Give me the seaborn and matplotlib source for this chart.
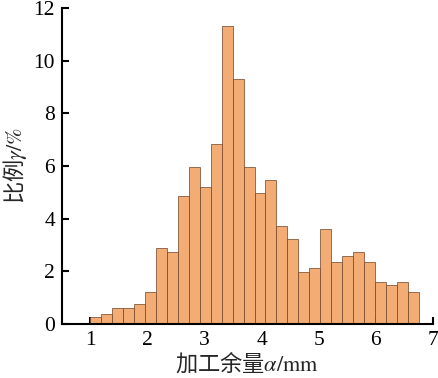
import numpy as np
import pandas as pd
import matplotlib
matplotlib.use('Agg')
import matplotlib.pyplot as plt
import seaborn as sns

# Dados (30 bins entre 1.0 e 6.75 mm)
inicio, fim, n_bins = 1.0, 6.75, 30
proporcao = [0.25, 0.38, 0.61, 0.62, 0.75, 1.22, 2.87, 2.73, 4.84, 5.96,
             5.20, 6.84, 11.33, 9.30, 5.96, 4.97, 5.47, 3.72, 3.23, 1.99,
             2.11, 3.59, 2.34, 2.59, 2.73, 2.34, 1.61, 1.49, 1.61, 1.22]
xticks = [1, 2, 3, 4, 5, 6, 7]
yticks = [0, 2, 4, 6, 8, 10, 12]

bordas = np.linspace(inicio, fim, n_bins + 1)
df = pd.DataFrame({
    'margem': (bordas[:-1] + bordas[1:]) / 2,
    'proporcao': proporcao,
})

sns.set_theme(style="ticks")
plt.rcParams['font.family'] = ['Liberation Serif', 'Noto Sans CJK SC']
plt.rcParams['mathtext.fontset'] = 'stix'

fig = plt.figure(figsize=(4.39, 3.78), dpi=100)
ax = fig.add_axes([0.141, 0.143, 0.845, 0.836])

sns.histplot(data=df, x='margem', weights='proporcao', bins=n_bins,
             binrange=(inicio, fim), ax=ax,
             color='#F2AC74', alpha=1, edgecolor='#6e4226', linewidth=0.5)

ax.set_xlim(0.5, 7.0)
ax.set_ylim(0, 12)
ax.set_xticks(xticks)
ax.set_yticks(yticks)
ax.tick_params(direction='in', length=5, width=1.5, labelsize=15.5,
               colors='black', pad=5)
for lado in ['top', 'right']:
    ax.spines[lado].set_visible(False)
for lado in ['left', 'bottom']:
    ax.spines[lado].set_linewidth(1.5)
    ax.spines[lado].set_color('black')

# texto chinês com Noto CJK, parte latina em mathtext (stix, serifada)
ax.set_xlabel('加工余量$\\alpha/\\mathrm{mm}$', fontsize=16, labelpad=0,
              family=['Noto Sans CJK SC', 'Liberation Serif'])
ax.set_ylabel('比例$\\gamma/\\%$', fontsize=16, labelpad=3,
              family=['Noto Sans CJK SC', 'Liberation Serif'])

fig.savefig('out.png', dpi=100)
